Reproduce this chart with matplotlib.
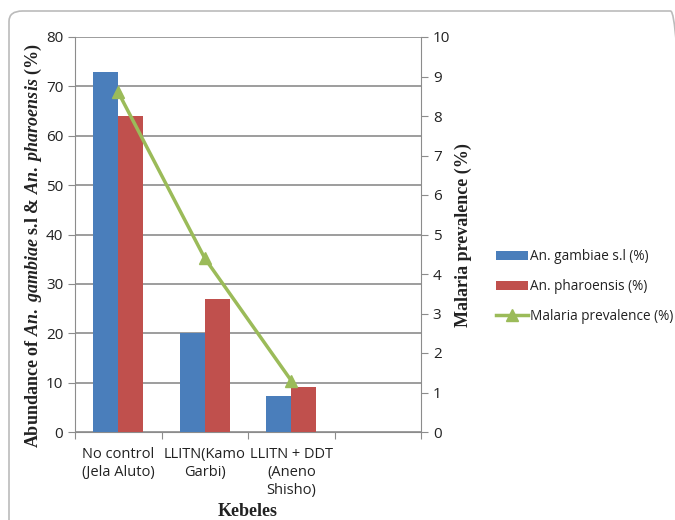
import matplotlib.pyplot as plt
import numpy as np
from matplotlib.patches import FancyBboxPatch

# data
kebeles = ["No control\n(Jela Aluto)", "LLITN(Kamo\nGarbi)", "LLITN + DDT\n(Aneno\nShisho)", ""]
gambiae = [73, 20, 7.3, np.nan]
pharoensis = [64, 27, 9.1, np.nan]
malaria = [8.6, 4.4, 1.3, np.nan]

blue = "#4A7EBB"
red = "#C0504D"
green = "#9BBB59"
grid_c = "#8c8c8c"

plt.rcParams["mathtext.fontset"] = "custom"
plt.rcParams["mathtext.it"] = "Liberation Serif:italic:bold"
plt.rcParams["mathtext.rm"] = "Liberation Serif:bold"

fig = plt.figure(figsize=(6.75, 5.2), dpi=100)
ax = fig.add_axes([75 / 675, 88 / 520, 346 / 675, 395 / 520])

x = np.arange(len(kebeles))
w = 0.29
ax.bar(x - w / 2, gambiae, w, color=blue, label="An. gambiae s.l (%)", zorder=3)
ax.bar(x + w / 2, pharoensis, w, color=red, label="An. pharoensis (%)", zorder=3)

ax.set_xlim(-0.5, 3.5)
ax.set_ylim(0, 80)
ax.set_yticks(range(0, 81, 10))
ax.yaxis.grid(True, color=grid_c, linewidth=1.2, zorder=0)
ax.set_axisbelow(True)

# tick marks at category edges, labels at centres
ax.set_xticks(np.arange(-0.5, 3.6, 1))
ax.set_xticklabels([])
ax.set_xticks(x, minor=True)
ax.set_xticklabels(kebeles, minor=True, fontsize=10.5, color="#222222",
                   family="Open Sans", linespacing=1.25)
ax.tick_params(axis="x", which="minor", length=0, pad=11)
ax.tick_params(axis="x", which="major", length=5, color=grid_c)
ax.tick_params(axis="y", length=5, color=grid_c, labelsize=11, labelcolor="#222222")
for lab in ax.get_yticklabels():
    lab.set_family("Open Sans")

for s in ["left", "bottom", "right"]:
    ax.spines[s].set_color(grid_c)
ax.spines["top"].set_visible(False)

ax2 = ax.twinx()
ax2.plot(x, malaria, color=green, linewidth=2.5, marker="^", markersize=8,
         label="Malaria prevalence (%)", zorder=5)
ax2.set_ylim(0, 10)
ax2.set_yticks(range(0, 11))
ax2.tick_params(axis="y", length=5, color=grid_c, labelsize=11, labelcolor="#222222")
for lab in ax2.get_yticklabels():
    lab.set_family("Open Sans")
for s in ["left", "bottom", "right", "top"]:
    ax2.spines[s].set_visible(False)

fig.text(33 / 675, 1 - 246 / 520,
         r"Abundance of $\mathit{An.\ gambiae}$ s.l & $\mathit{An.\ pharoensis}$ (%)",
         rotation=90, ha="center", va="center", fontsize=13,
         family="Liberation Serif", weight="bold", color="#222222")
fig.text(463 / 675, 1 - 235 / 520, "Malaria prevalence (%)", rotation=90,
         ha="center", va="center", fontsize=13, family="Liberation Serif",
         weight="bold", color="#222222")
fig.text(248 / 675, 1 - 511 / 520, "Kebeles", ha="center", va="center",
         fontsize=13, family="Liberation Serif", weight="bold", color="#222222")

h1, l1 = ax.get_legend_handles_labels()
h2, l2 = ax2.get_legend_handles_labels()
leg = fig.legend(h1 + h2, l1 + l2, loc="upper left",
                 bbox_to_anchor=(484 / 675, 1 - 237 / 520), frameon=False,
                 prop={"family": "Open Sans", "size": 9.8}, handlelength=2.3,
                 handletextpad=0.2, labelspacing=1.1)
for t in leg.get_texts():
    t.set_color("#222222")

# rounded chart border
fig.patches.append(FancyBboxPatch((9 / 675, -0.1), 1.0, 1.1 - 11 / 520,
                                  boxstyle="round,pad=0,rounding_size=0.02",
                                  transform=fig.transFigure, fill=False,
                                  edgecolor="#bbbbbb", linewidth=1.2))

fig.savefig("out.png", dpi=100)
